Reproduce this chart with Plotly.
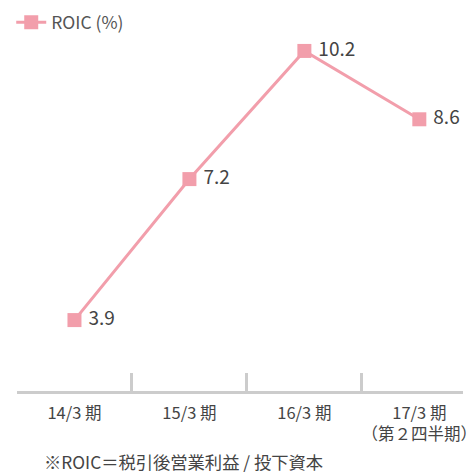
import plotly.graph_objects as go

categories = ["14/3 期", "15/3 期", "16/3 期", "17/3 期<br>（第２四半期）"]
roic = [3.9, 7.2, 10.2, 8.6]
series_name = "ROIC (%)"
footnote = "※ROIC＝税引後営業利益 / 投下資本"

pink = "#f29eab"
font_family = "Noto Sans CJK JP, Noto Sans, sans-serif"

fig = go.Figure()
fig.add_trace(go.Scatter(
    x=list(range(len(categories))),
    y=roic,
    mode="lines+markers+text",
    name=series_name,
    text=[f" {v:.1f}" for v in roic],
    textposition="middle right",
    textfont=dict(size=19, color="#444444", family=font_family),
    line=dict(color=pink, width=3),
    marker=dict(symbol="square", size=14, color=pink),
    cliponaxis=False,
))

fig.update_layout(
    width=468, height=473,
    margin=dict(l=17, r=5, t=30, b=82, autoexpand=False),
    paper_bgcolor="white", plot_bgcolor="white",
    font=dict(family=font_family, color="#444444", size=16),
    showlegend=True,
    legend=dict(x=0.024, y=0.991, xref="container", yref="container", xanchor="left", yanchor="top",
                font=dict(size=17.5, color="#555555"), bgcolor="rgba(0,0,0,0)"),
    xaxis=dict(
        range=[-0.5, 3.38],
        tickmode="array",
        tickvals=list(range(len(categories))),
        ticktext=categories,
        showgrid=False, zeroline=False,
        showline=True, linecolor="#cccccc", linewidth=3,
        ticks="", ticklabelstandoff=5, automargin=False,
        ticklabeloverflow="allow",
        tickfont=dict(size=16.5, color="#444444"),
        fixedrange=True,
    ),
    xaxis2=dict(
        overlaying="x", range=[-0.5, 3.38],
        tickmode="array", tickvals=[-0.5, 0.5, 1.5, 2.5],
        showticklabels=False, ticks="inside", ticklen=18, tickwidth=3, tickcolor="#cccccc",
        side="bottom", showgrid=False, zeroline=False, anchor="y", fixedrange=True,
        automargin=False,
    ),
    yaxis=dict(range=[2.24, 10.69], visible=False, fixedrange=True, automargin=False),
    annotations=[dict(
        text=footnote, xref="paper", yref="paper", x=0.058, y=-0.195,
        xanchor="left", yanchor="middle", showarrow=False, borderpad=0,
        font=dict(size=17.3, color="#444444"),
    )],
)
# invisible trace to activate xaxis2 (boundary ticks)
fig.add_trace(go.Scatter(x=[0], y=[None], xaxis="x2", showlegend=False, hoverinfo="skip"))

fig.write_html("out.html")
